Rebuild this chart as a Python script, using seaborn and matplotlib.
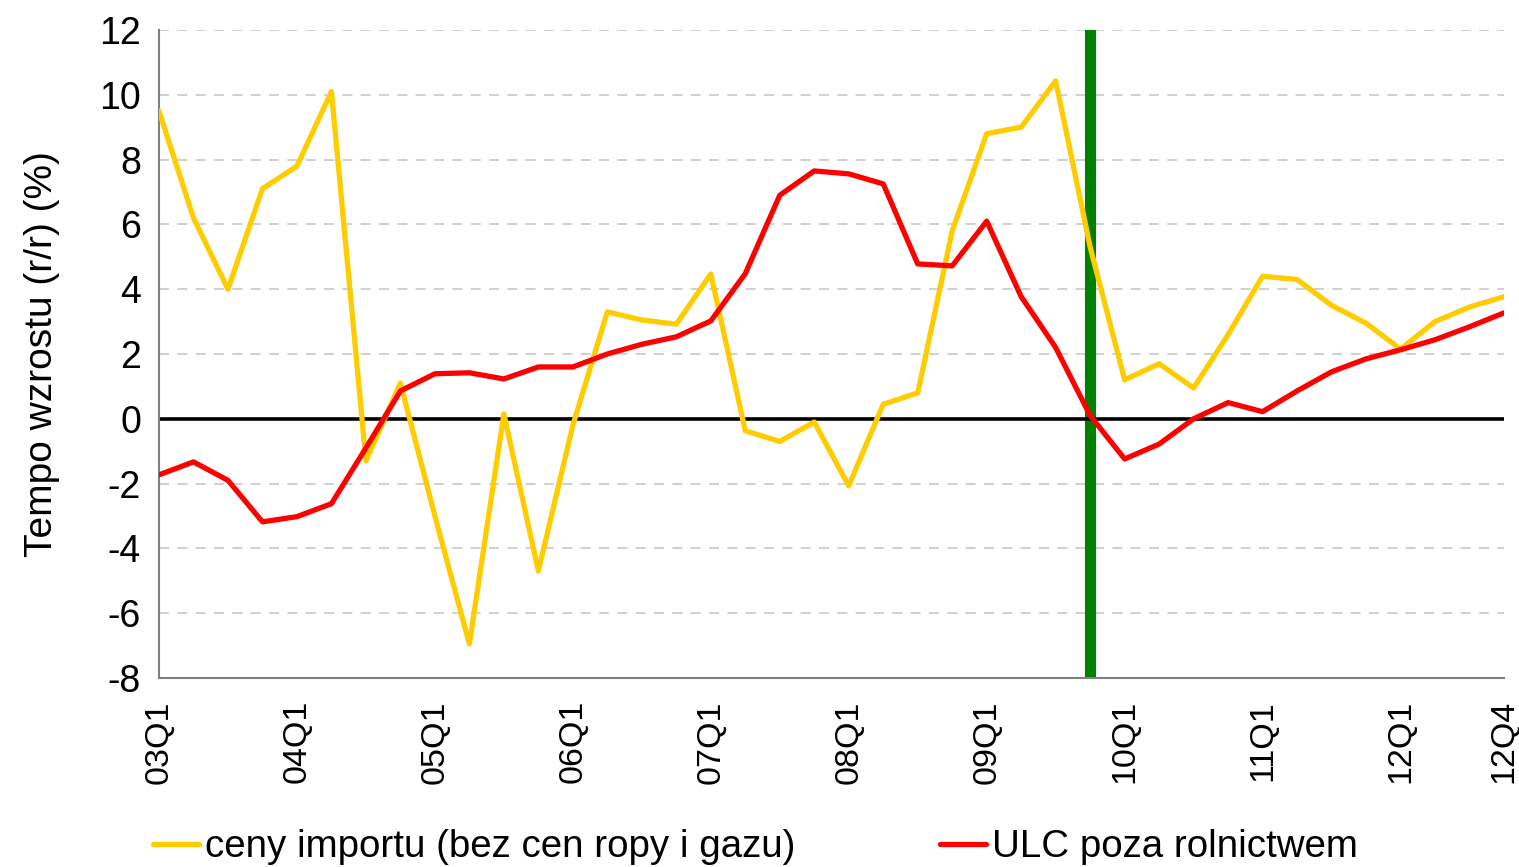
import pandas as pd
import seaborn as sns
import matplotlib.pyplot as plt

quarters = [
    "03Q1", "03Q2", "03Q3", "03Q4", "04Q1", "04Q2", "04Q3", "04Q4",
    "05Q1", "05Q2", "05Q3", "05Q4", "06Q1", "06Q2", "06Q3", "06Q4",
    "07Q1", "07Q2", "07Q3", "07Q4", "08Q1", "08Q2", "08Q3", "08Q4",
    "09Q1", "09Q2", "09Q3", "09Q4", "10Q1", "10Q2", "10Q3", "10Q4",
    "11Q1", "11Q2", "11Q3", "11Q4", "12Q1", "12Q2", "12Q3", "12Q4",
]
labelled = ["03Q1", "04Q1", "05Q1", "06Q1", "07Q1", "08Q1", "09Q1",
            "10Q1", "11Q1", "12Q1", "12Q4"]

import_prices = [
    9.5, 6.2, 4.0, 7.1, 7.8, 10.1, -1.3, 1.1,
    -3.0, -6.95, 0.15, -4.7, -0.2, 3.3, 3.05, 2.92,
    4.47, -0.37, -0.7, -0.1, -2.07, 0.45, 0.8, 5.8,
    8.8, 9.0, 10.43, 5.3, 1.2, 1.7, 0.95, 2.6,
    4.4, 4.3, 3.5, 2.95, 2.15, 3.0, 3.45, 3.77,
]
ulc = [
    -1.73, -1.33, -1.9, -3.18, -3.02, -2.62, -0.9, 0.86,
    1.39, 1.42, 1.23, 1.6, 1.6, 2.0, 2.3, 2.53,
    3.02, 4.48, 6.9, 7.65, 7.56, 7.25, 4.78, 4.72,
    6.1, 3.77, 2.2, 0.1, -1.24, -0.78, 0.0, 0.5,
    0.22, 0.86, 1.45, 1.85, 2.13, 2.44, 2.84, 3.27,
]
series_names = ["ceny importu (bez cen ropy i gazu)", "ULC poza rolnictwem"]
series_colors = ["#FFCC00", "#FF0000"]
marker_quarter = "09Q4"

sns.set_style("white")
plt.rcParams["font.family"] = ["Liberation Sans", "DejaVu Sans"]
plt.rcParams["axes.unicode_minus"] = False
plt.rcParams["text.color"] = "black"
plt.rcParams["xtick.color"] = "black"
plt.rcParams["ytick.color"] = "black"
plt.rcParams["axes.labelcolor"] = "black"

df = pd.DataFrame({
    "q": list(range(len(quarters))) * 2,
    "value": import_prices + ulc,
    "series": [series_names[0]] * len(quarters) + [series_names[1]] * len(quarters),
})

fig = plt.figure(figsize=(15.19, 8.67), dpi=100)
ax = fig.add_axes([159 / 1519, 1 - 678 / 867, (1504 - 159) / 1519, (678 - 30) / 867])

# dashed grid, green marker line and the zero line sit under the series
for y in range(-8, 13, 2):
    if y != 0:
        ax.axhline(y, color="#c8c8c8", lw=1.2, ls=(0, (6, 5)), zorder=0)
ax.axvline(quarters.index(marker_quarter), color="#008000", lw=8, zorder=1)
ax.axhline(0, color="black", lw=2.6, zorder=2)

sns.lineplot(data=df, x="q", y="value", hue="series", palette=series_colors,
             linewidth=3.8, ax=ax, zorder=3)

handles, labels = ax.get_legend_handles_labels()
ax.get_legend().remove()
fig.legend(handles, labels, loc="center left", bbox_to_anchor=(153 / 1519, 1 - 847 / 867),
           ncol=2, frameon=False, borderpad=0, borderaxespad=0,
           handlelength=1.2, handletextpad=0.15, columnspacing=3.75,
           prop={"family": ["Liberation Sans", "DejaVu Sans"], "size": 27.7})

ax.set_xlim(0, len(quarters) - 1)
ax.set_ylim(-8, 12)
ax.set_yticks(range(-8, 13, 2))
ax.set_xticks(range(len(quarters)))
ax.set_xticklabels([q if q in labelled else "" for q in quarters], rotation=90)
ax.tick_params(axis="x", labelsize=24.5, length=8, width=1.2, color="#404040", pad=8)
ax.tick_params(axis="y", labelsize=27, length=9, width=1.2, color="#404040", pad=4)
ax.set_xlabel("")
ax.set_ylabel("Tempo wzrostu (r/r) (%)", fontsize=28, labelpad=28)

for side in ["top", "right"]:
    ax.spines[side].set_visible(False)
for side in ["left", "bottom"]:
    ax.spines[side].set_color("#808080")
    ax.spines[side].set_linewidth(1.5)

fig.savefig("out.png", dpi=100)
